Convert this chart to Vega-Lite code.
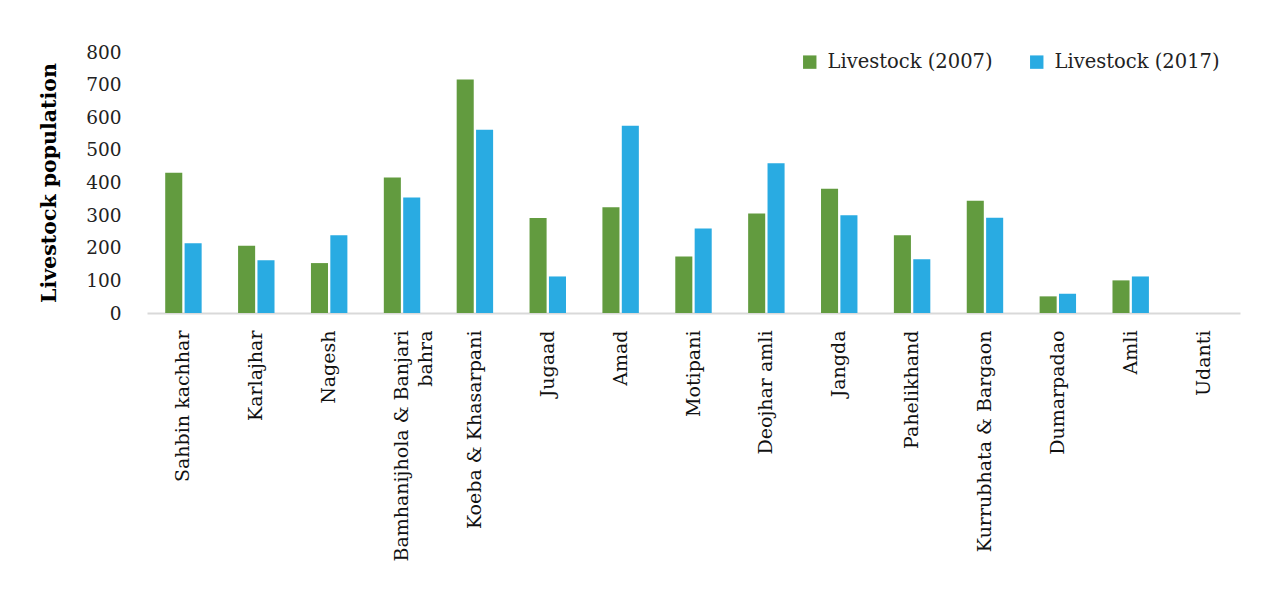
{
  "$schema": "https://vega.github.io/schema/vega-lite/v6.json",
  "autosize": {"type": "none"},
  "width": 1093,
  "height": 261,
  "padding": {"left": 147, "top": 52, "right": 34, "bottom": 281},
  "background": "white",
  "config": {"view": {"stroke": null}, "font": "DejaVu Serif"},
  "data": {"values": [
    {"village": "Sahbin kachhar", "series": "Livestock (2007)", "value": 430},
    {"village": "Sahbin kachhar", "series": "Livestock (2017)", "value": 214},
    {"village": "Karlajhar", "series": "Livestock (2007)", "value": 206},
    {"village": "Karlajhar", "series": "Livestock (2017)", "value": 162},
    {"village": "Nagesh", "series": "Livestock (2007)", "value": 153},
    {"village": "Nagesh", "series": "Livestock (2017)", "value": 238},
    {"village": "Bamhanijhola & Banjari bahra", "series": "Livestock (2007)", "value": 415},
    {"village": "Bamhanijhola & Banjari bahra", "series": "Livestock (2017)", "value": 354},
    {"village": "Koeba & Khasarpani", "series": "Livestock (2007)", "value": 716},
    {"village": "Koeba & Khasarpani", "series": "Livestock (2017)", "value": 562},
    {"village": "Jugaad", "series": "Livestock (2007)", "value": 291},
    {"village": "Jugaad", "series": "Livestock (2017)", "value": 112},
    {"village": "Amad", "series": "Livestock (2007)", "value": 324},
    {"village": "Amad", "series": "Livestock (2017)", "value": 574},
    {"village": "Motipani", "series": "Livestock (2007)", "value": 173},
    {"village": "Motipani", "series": "Livestock (2017)", "value": 259},
    {"village": "Deojhar amli", "series": "Livestock (2007)", "value": 305},
    {"village": "Deojhar amli", "series": "Livestock (2017)", "value": 459},
    {"village": "Jangda", "series": "Livestock (2007)", "value": 381},
    {"village": "Jangda", "series": "Livestock (2017)", "value": 300},
    {"village": "Pahelikhand", "series": "Livestock (2007)", "value": 238},
    {"village": "Pahelikhand", "series": "Livestock (2017)", "value": 165},
    {"village": "Kurrubhata & Bargaon", "series": "Livestock (2007)", "value": 344},
    {"village": "Kurrubhata & Bargaon", "series": "Livestock (2017)", "value": 292},
    {"village": "Dumarpadao", "series": "Livestock (2007)", "value": 51},
    {"village": "Dumarpadao", "series": "Livestock (2017)", "value": 59},
    {"village": "Amli", "series": "Livestock (2007)", "value": 100},
    {"village": "Amli", "series": "Livestock (2017)", "value": 112},
    {"village": "Udanti", "series": "Livestock (2007)", "value": 0},
    {"village": "Udanti", "series": "Livestock (2017)", "value": 0}
  ]},
  "mark": {"type": "bar"},
  "encoding": {
    "x": {
      "field": "village", "type": "nominal", "sort": null,
      "scale": {"paddingInner": 0.5, "paddingOuter": 0.25},
      "axis": {
        "title": null, "labelAngle": -90, "labelFontSize": 19, "labelColor": "#111",
        "labelPadding": 17, "ticks": false, "domainColor": "#d9d9d9", "domainWidth": 2,
        "labelLimit": 400, "labelLineHeight": 24,
        "labelExpr": "datum.value == 'Bamhanijhola & Banjari bahra' ? ['Bamhanijhola & Banjari', 'bahra'] : datum.value"
      }
    },
    "xOffset": {"field": "series", "type": "nominal", "scale": {"paddingInner": 0.12}},
    "y": {
      "field": "value", "type": "quantitative",
      "scale": {"domain": [0, 800]},
      "axis": {
        "title": "Livestock population", "titleFontSize": 20.5, "titleFontWeight": "bold", "titleColor": "#000",
        "titlePadding": 26,
        "values": [0, 100, 200, 300, 400, 500, 600, 700, 800],
        "labelFontSize": 18.5, "labelColor": "#222", "labelPadding": 26,
        "grid": false, "domain": false, "ticks": false
      }
    },
    "color": {
      "field": "series", "type": "nominal",
      "scale": {"domain": ["Livestock (2007)", "Livestock (2017)"], "range": ["#629b3f", "#29abe2"]},
      "legend": {
        "title": null, "orient": "none", "direction": "horizontal",
        "legendX": 653, "legendY": 0,
        "symbolType": "square", "symbolSize": 180, "symbolStrokeWidth": 0,
        "labelFontSize": 19.5, "labelColor": "#222", "labelLimit": 400, "columnPadding": 34, "labelOffset": 8
      }
    }
  }
}
